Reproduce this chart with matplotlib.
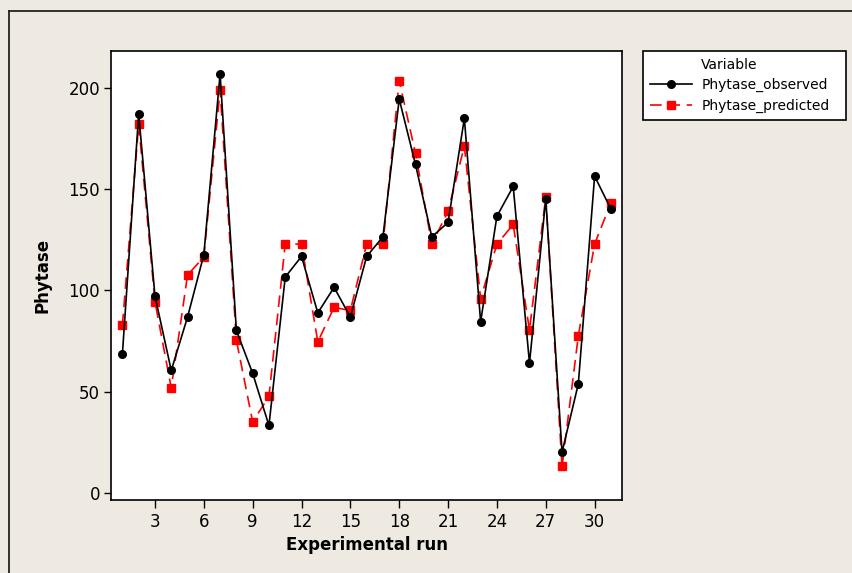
import matplotlib
matplotlib.use("Agg")
import matplotlib.pyplot as plt
from matplotlib.lines import Line2D

runs = list(range(1, 32))
observed = [68.5, 187.3, 97.3, 60.4, 86.8, 117.6, 207.1, 80.2, 59.0, 33.2,
            106.6, 116.8, 88.9, 101.5, 86.8, 116.8, 126.5, 194.6, 162.3, 126.5,
            133.6, 185.1, 84.5, 136.7, 151.4, 64.0, 145.3, 20.0, 53.8, 156.5, 140.2]
predicted = [82.7, 182.2, 94.4, 51.8, 107.6, 116.5, 199.2, 75.4, 35.0, 47.6,
             122.9, 122.9, 74.6, 91.6, 90.1, 122.9, 122.9, 203.7, 167.8, 122.9,
             139.1, 171.4, 95.9, 122.9, 132.6, 80.4, 146.3, 13.0, 77.6, 122.9, 143.3]
xticks = [3, 6, 9, 12, 15, 18, 21, 24, 27, 30]
yticks = [0, 50, 100, 150, 200]

plt.rcParams['font.family'] = ['DejaVu Sans']
BG = '#EEEAE1'
W, H = 853, 573
fig = plt.figure(figsize=(W / 100, H / 100), dpi=100, facecolor=BG)

ax = fig.add_axes([111 / W, 1 - 500.3 / H, (622.3 - 111) / W, (500.3 - 51) / H])
ax.set_facecolor('white')

ax.plot(runs, observed, color='black', lw=1.2, marker='o', ms=5.5,
        label='Phytase_observed', zorder=3)
ax.plot(runs, predicted, color='#FF0000', lw=1.2, ls=(0, (7, 4)), marker='s',
        ms=5.5, label='Phytase_predicted', zorder=2)

ax.set_xlim(0.3, 31.7)
ax.set_ylim(-3.8, 218.4)
ax.set_xticks(xticks)
ax.set_yticks(yticks)
ax.tick_params(direction='out', length=5, width=1, labelsize=12, colors='black', pad=3)
ax.tick_params(axis='x', length=6)
for s in ax.spines.values():
    s.set_linewidth(1.2)
    s.set_color('black')

ax.set_xlabel('Experimental run', fontsize=12, fontweight='bold', labelpad=4)
ax.set_ylabel('Phytase', fontsize=12, fontweight='bold', labelpad=12)

# outer frame lines (top and left)
fig.add_artist(Line2D([9 / W, 9 / W], [0, 1 - 11 / H], color='#222222', lw=1.3,
                      transform=fig.transFigure))
fig.add_artist(Line2D([9 / W, 1], [1 - 11 / H, 1 - 11 / H], color='#222222', lw=1.3,
                      transform=fig.transFigure))

h, l = ax.get_legend_handles_labels()
blank = Line2D([], [], color='none')
leg = fig.legend([blank] + h, ['Variable'] + l,
                 loc='upper left',
                 bbox_to_anchor=(643 / W, 1 - 51 / H, (846 - 643) / W, 0.0001),
                 mode='expand', fontsize=10, frameon=True, fancybox=False,
                 edgecolor='black', facecolor='white', framealpha=1,
                 borderaxespad=0, handlelength=3.0, handletextpad=0.7,
                 labelspacing=0.45, borderpad=0.5)
leg.get_frame().set_linewidth(1.2)

fig.savefig('out.png', dpi=100, facecolor=BG)
